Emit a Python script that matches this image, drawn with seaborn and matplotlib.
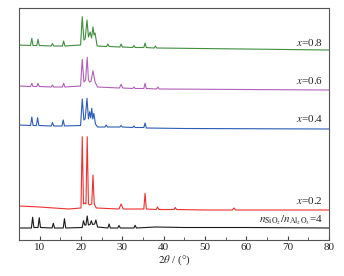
import matplotlib
matplotlib.use('Agg')
import matplotlib.pyplot as plt
import seaborn as sns
import pandas as pd
from matplotlib.ticker import MultipleLocator

# Pola XRD (titik puncak + garis dasar), intensitas a.u. dengan offset
x_n4 = [5, 8.0, 8.3, 8.6, 9.6, 9.9, 10.2, 13.0, 13.3, 13.6, 15.7, 16.0, 16.3, 20.3, 20.6, 20.9,
        21.2, 21.5, 21.8, 22.2, 22.5, 22.8, 23.3, 23.6, 24.0, 26.5, 26.8, 27.1, 28.9, 29.2, 29.5,
        32.8, 33.1, 33.4, 38, 45, 60, 80]
y_n4 = [12, 12, 22.7, 12.5, 12.5, 22.3, 12.5, 12, 16.7, 12, 12, 21.3, 12, 12.5, 19.3, 15,
        15, 24, 15, 15.5, 19.3, 15.5, 16, 20, 13, 12, 16, 12, 12, 14.5, 12,
        12, 14.7, 12, 13, 12.5, 12.5, 12]

x_02 = [5, 10, 17, 20.0, 20.3, 20.6, 20.9, 21.2, 21.5, 21.8, 22.1, 22.6, 22.9, 23.2, 23.7,
        29.2, 29.7, 30.2, 35.2, 35.5, 35.8, 38.2, 38.5, 38.8, 42.5, 42.8, 43.1, 50, 56.6, 57,
        57.4, 80]
y_02 = [34, 33, 31, 32, 103.3, 36, 37, 36, 103.3, 36, 35, 36, 65, 36, 32,
        31, 36, 31, 31, 46.7, 31, 30.5, 33, 30.5, 30.5, 32.5, 30.5, 30, 30, 32,
        30, 30]

x_04 = [5, 7.8, 8.1, 8.4, 9.2, 9.5, 9.8, 12.8, 13.1, 13.4, 15.4, 15.7, 16.0, 19.9, 20.3, 20.7,
        21.0, 21.45, 21.8, 22.1, 22.35, 22.6, 22.85, 23.1, 23.5, 24.0, 25.8, 26.1, 26.4, 29.4,
        29.7, 30.0, 32.5, 32.8, 33.1, 35.2, 35.5, 35.8, 45, 80]
y_04 = [115, 114.5, 123, 114.5, 114.5, 122.3, 114.5, 114, 117.5, 114, 114, 120, 114, 114.5, 141, 120,
        121, 141.7, 121, 128.3, 122, 131.7, 121, 126.7, 116, 113, 113, 115, 113, 113,
        114.5, 113, 112.5, 114, 112.5, 112.5, 117, 112, 111.5, 111]

x_06 = [5, 7.8, 8.1, 8.4, 9.3, 9.6, 9.9, 12.8, 13.1, 13.4, 15.5, 15.8, 16.1, 19.9, 20.3, 20.7,
        21.1, 21.5, 21.8, 22.1, 22.4, 22.9, 23.4, 24.0, 29.3, 29.7, 30.1, 32.5, 32.8, 33.1,
        35.2, 35.5, 35.8, 38.3, 38.6, 38.9, 80]
y_06 = [154, 153.5, 156.7, 153.5, 153.5, 156.7, 153.5, 153, 155, 153, 153, 156.7, 153, 154, 180.7, 158,
        160, 182.7, 160, 158, 158.5, 169.3, 158, 153, 152, 155.7, 152, 151.5, 153, 151.5,
        151.5, 156.7, 151.5, 151, 153, 151, 150]

x_08 = [5, 7.8, 8.1, 8.4, 9.3, 9.6, 9.9, 12.8, 13.1, 13.4, 15.5, 15.8, 16.1, 19.9, 20.3, 20.7,
        21.0, 21.45, 21.8, 22.2, 22.55, 22.9, 23.15, 23.4, 23.9, 26.2, 26.5, 26.8, 29.4, 29.7,
        30.0, 32.5, 32.8, 33.1, 35.2, 35.5, 35.8, 37.7, 38.0, 38.3, 80]
y_08 = [195, 194.5, 201.7, 194.5, 194.5, 200.7, 194.5, 194, 196.5, 194, 194, 199, 194, 195, 223.3, 200,
        201, 220, 203, 208, 202, 213, 205, 207, 194, 193.5, 196, 193.5, 193, 196,
        193, 192.5, 194.5, 192.5, 192.5, 197, 192.5, 192, 194, 192, 190]

sample_names = ['n4', 'x0.2', 'x0.4', 'x0.6', 'x0.8']
sample_x = [x_n4, x_02, x_04, x_06, x_08]
sample_y = [y_n4, y_02, y_04, y_06, y_08]
label_text = [r'$n_{\mathrm{SiO_2}}/n_{\mathrm{Al_2O_3}}$=4', r'$x$=0.2', r'$x$=0.4', r'$x$=0.6', r'$x$=0.8']
label_y = [20, 39, 121, 159, 198]

colors = {'n4': '#1a1a1a', 'x0.2': '#f03030', 'x0.4': '#2c5cb8',
          'x0.6': '#b060b8', 'x0.8': '#3f8f3f'}

rows = []
for name, xs, ys in zip(sample_names, sample_x, sample_y):
    for a, b in zip(xs, ys):
        rows.append({'two_theta': a, 'intensity': b, 'sample': name})
df = pd.DataFrame(rows)

sns.set_style('ticks')
plt.rcParams['font.family'] = ['Liberation Serif', 'DejaVu Serif']
plt.rcParams['mathtext.fontset'] = 'stix'

fig = plt.figure(figsize=(3.44, 2.76), dpi=100)
ax = fig.add_axes([19/344, 36/276, 310/344, 232/276])

sns.lineplot(data=df, x='two_theta', y='intensity', hue='sample', palette=colors,
             estimator=None, sort=False, linewidth=0.8, legend=False, ax=ax)

for t, yy in zip(label_text, label_y):
    ax.text(78.6, yy, t, ha='right', va='center', fontsize=8)

ax.set_xlim(5, 80)
ax.set_ylim(0, 232)
ax.xaxis.set_major_locator(MultipleLocator(10))
ax.xaxis.set_minor_locator(MultipleLocator(5))
ax.tick_params(axis='x', which='both', direction='in', labelsize=8, color='#444444', pad=2)
ax.tick_params(axis='x', which='major', length=3)
ax.tick_params(axis='x', which='minor', length=2)
ax.set_yticks([])
ax.set_xlabel(r'$2\theta$ / (°)', fontsize=8, labelpad=1)
ax.set_ylabel('')
for s in ax.spines.values():
    s.set_color('#555555')
    s.set_linewidth(0.8)

fig.savefig('out.png', dpi=100)
